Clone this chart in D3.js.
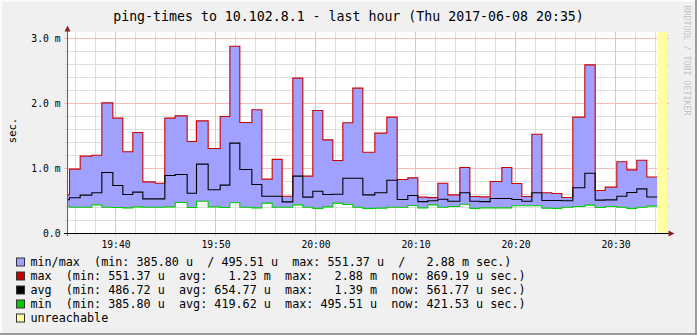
<!DOCTYPE html>
<html>
<head>
<meta charset="utf-8">
<script src="https://cdn.jsdelivr.net/npm/d3@7"></script>
<style>
  html, body { margin: 0; padding: 0; background: #f0f0f0; }
  svg text { font-family: "DejaVu Sans Mono", monospace; white-space: pre; }
</style>
</head>
<body>
<svg id="chart" width="697" height="335"></svg>
<script>
// ---- data: ping round-trip times (milliseconds), one value per RRD step ----
const day = "2017-06-08";
const stepEnds = [
  "19:35:24","19:36:28","19:37:38","19:38:38","19:39:44","19:40:44","19:41:44","19:42:44",
  "19:43:58","19:44:56","19:45:58","19:47:10","19:48:06","19:49:16","19:50:28","19:51:26",
  "19:52:26","19:53:38","19:54:38","19:55:40","19:56:40","19:57:44","19:58:44","19:59:44",
  "20:00:44","20:01:44","20:02:44","20:03:44","20:04:44","20:05:56","20:07:08","20:08:10",
  "20:09:14","20:10:14","20:11:14","20:12:14","20:13:14","20:14:26","20:15:26","20:16:26",
  "20:17:28","20:18:38","20:19:38","20:20:38","20:21:38","20:22:38","20:23:38","20:24:38",
  "20:25:44","20:26:56","20:27:58","20:28:58","20:30:08","20:31:08","20:32:08","20:33:08",
  "20:34:10"
];
const firstStepStart = "19:34:20";
const maxMs = [
  0.595, 0.99, 1.19, 1.205, 2.01, 1.775, 1.257, 1.554,
  0.795, 0.774, 1.775, 1.81, 1.415, 1.733, 1.308, 1.80,
  2.88, 1.708, 1.903, 0.836, 1.14, 0.574, 2.39, 0.882,
  1.892, 1.441, 1.123, 1.703, 2.236, 1.251, 1.544, 1.79,
  0.831, 0.856, 0.559, 0.55137, 0.774, 0.595, 1.015, 0.569,
  0.563, 0.80, 1.015, 0.769, 0.569, 1.528, 0.626, 0.615,
  0.553, 1.79, 2.595, 0.662, 0.713, 1.103, 0.979, 1.128,
  0.86919
];
const avgMs = [
  0.52, 0.549, 0.59, 0.626, 0.938, 0.738, 0.60, 0.636,
  0.533, 0.533, 0.892, 0.908, 0.62, 1.067, 0.672, 0.744,
  1.39, 0.985, 0.754, 0.574, 0.574, 0.48672, 0.882, 0.559,
  0.651, 0.60, 0.605, 0.851, 0.851, 0.595, 0.626, 0.82,
  0.523, 0.585, 0.49, 0.503, 0.528, 0.497, 0.626, 0.497,
  0.49, 0.538, 0.538, 0.523, 0.497, 0.626, 0.508, 0.508,
  0.503, 0.703, 0.928, 0.513, 0.518, 0.574, 0.631, 0.687,
  0.56177
];
const minMs = [
  0.42, 0.405, 0.405, 0.441, 0.405, 0.40, 0.395, 0.41,
  0.405, 0.405, 0.41, 0.477, 0.40, 0.49551, 0.41, 0.40,
  0.472, 0.405, 0.395, 0.467, 0.405, 0.405, 0.441, 0.405,
  0.3858, 0.41, 0.467, 0.446, 0.405, 0.386, 0.39, 0.405,
  0.405, 0.431, 0.395, 0.441, 0.405, 0.415, 0.451, 0.386,
  0.395, 0.395, 0.395, 0.426, 0.426, 0.426, 0.39, 0.386,
  0.405, 0.415, 0.436, 0.40, 0.415, 0.405, 0.386, 0.405,
  0.42153
];
const unreachable = [["20:34:10", "20:35:06"]];
const timeWindow = ["19:35:06", "20:35:06"];
const yMajorTicks = [0, 1, 2, 3];
const title = "ping-times to 10.102.8.1 - last hour (Thu 2017-06-08 20:35)";
const yLabel = "sec.";
const watermark = "RRDTOOL / TOBI OETIKER";
const legendNames = ["min/max", "max", "avg", "min", "unreachable"];
const legendStats = [
  "  (min: 385.80 u  / 495.51 u  max: 551.37 u  /   2.88 m sec.)",
  "  (min: 551.37 u  avg:   1.23 m  max:   2.88 m  now: 869.19 u sec.)",
  "  (min: 486.72 u  avg: 654.77 u  max:   1.39 m  now: 561.77 u sec.)",
  "  (min: 385.80 u  avg: 419.62 u  max: 495.51 u  now: 421.53 u sec.)",
  ""
];

// ---- colours ----
const C = {
  canvas: "#f0f0f0", plot: "#ffffff",
  grid: "#dedede", mgrid: "#f5bcbc",
  band: "#a0a0ff", max: "#cc0000", avg: "#000000", min: "#00cc00",
  unreach: "#ffffa0", arrow: "#902020", font: "#000000"
};
const legendColors = [C.band, C.max, C.avg, C.min, C.unreach];

// ---- layout ----
const W = 697, H = 335;
const plot = { left: 67, right: 667, top: 32, bottom: 233 };

const parse = d3.timeParse("%Y-%m-%d %H:%M:%S");
const T = s => parse(day + " " + s);

const x = d3.scaleTime()
  .domain(timeWindow.map(T))
  .range([plot.left - 0.5, plot.right - 0.5]);
const y = d3.scaleLinear()
  .domain([0, (plot.bottom - plot.top) / 65])
  .range([plot.bottom + 0.5, plot.top + 0.5]);

const svg = d3.select("#chart");

// canvas with bevelled frame
svg.append("rect").attr("width", W).attr("height", H).attr("fill", C.canvas);
svg.append("rect").attr("x", 0).attr("y", 0).attr("width", W).attr("height", 2).attr("fill", "#fbfbfb");
svg.append("rect").attr("x", 0).attr("y", 0).attr("width", 2).attr("height", H).attr("fill", "#fbfbfb");
svg.append("rect").attr("x", W - 2).attr("y", 0).attr("width", 2).attr("height", H).attr("fill", "#9c9c9c");
svg.append("rect").attr("x", 0).attr("y", H - 2).attr("width", W).attr("height", 2).attr("fill", "#9c9c9c");

// plot background
svg.append("rect")
  .attr("x", plot.left).attr("y", plot.top)
  .attr("width", plot.right - plot.left).attr("height", plot.bottom - plot.top)
  .attr("fill", C.plot);

const px = v => Math.floor(v) + 0.5;

// grid: minor every 2 minutes / 0.2 ms, major every 10 minutes / 1 ms
const gridG = svg.append("g").attr("shape-rendering", "crispEdges");
const [t0, t1] = x.domain();
const minorT = d3.timeMinute.every(2).range(t0, t1);
const majorT = d3.timeMinute.every(10).range(t0, t1);
const majorKey = new Set(majorT.map(d => +d));
gridG.selectAll("line.vminor").data(minorT.filter(d => !majorKey.has(+d))).join("line")
  .attr("x1", d => px(x(d))).attr("x2", d => px(x(d)))
  .attr("y1", plot.top).attr("y2", plot.bottom + 3)
  .attr("stroke", C.grid).attr("stroke-width", 1);
const yMinor = d3.range(0, 16).map(i => i * 0.2).filter(v => Math.abs(v - Math.round(v)) > 1e-6 && y(v) > plot.top);
gridG.selectAll("line.hminor").data(yMinor).join("line")
  .attr("x1", plot.left - 2).attr("x2", plot.right + 2)
  .attr("y1", d => px(y(d))).attr("y2", d => px(y(d)))
  .attr("stroke", C.grid).attr("stroke-width", 1);
gridG.selectAll("line.vmajor").data(majorT).join("line")
  .attr("x1", d => px(x(d))).attr("x2", d => px(x(d)))
  .attr("y1", plot.top).attr("y2", plot.bottom + 3)
  .attr("stroke", C.mgrid).attr("stroke-width", 1);
gridG.selectAll("line.hmajor").data(yMajorTicks.filter(v => v > 0)).join("line")
  .attr("x1", plot.left - 3).attr("x2", plot.right + 2)
  .attr("y1", d => px(y(d))).attr("y2", d => px(y(d)))
  .attr("stroke", C.mgrid).attr("stroke-width", 1);

// step records: each value holds from the previous step end to its own end
const starts = [firstStepStart].concat(stepEnds.slice(0, -1));
const rows = stepEnds.map((e, i) => ({ t: T(starts[i]), max: maxMs[i], avg: avgMs[i], min: minMs[i] }));
const last = rows[rows.length - 1];
rows.push({ t: T(stepEnds[stepEnds.length - 1]), max: last.max, avg: last.avg, min: last.min });

svg.append("clipPath").attr("id", "clip").append("rect")
  .attr("x", plot.left).attr("y", plot.top - 2)
  .attr("width", plot.right - plot.left).attr("height", plot.bottom - plot.top + 2);
const dataG = svg.append("g").attr("clip-path", "url(#clip)");

// unreachable periods
dataG.selectAll("rect.unreach").data(unreachable).join("rect")
  .attr("x", d => x(T(d[0]))).attr("y", plot.top)
  .attr("width", d => x(T(d[1])) - x(T(d[0])) + 0.5)
  .attr("height", plot.bottom - plot.top)
  .attr("fill", C.unreach);

// min..max band
dataG.append("path").datum(rows)
  .attr("d", d3.area().curve(d3.curveStepAfter)
    .x(d => x(d.t)).y0(d => y(d.min)).y1(d => y(d.max)))
  .attr("fill", C.band);

const stepLine = key => d3.line().curve(d3.curveStepAfter).x(d => x(d.t)).y(d => y(d[key]));
[["max", C.max], ["avg", C.avg], ["min", C.min]].forEach(([k, col]) => {
  dataG.append("path").datum(rows)
    .attr("d", stepLine(k))
    .attr("fill", "none").attr("stroke", col).attr("stroke-width", 1.1);
});

// axes lines with arrow heads
const axisG = svg.append("g");
axisG.append("line")
  .attr("x1", plot.left + 0.5).attr("x2", plot.left + 0.5)
  .attr("y1", plot.bottom + 3).attr("y2", plot.top - 4)
  .attr("stroke", "#606060").attr("stroke-width", 1).attr("shape-rendering", "crispEdges");
axisG.append("line")
  .attr("x1", plot.left - 3).attr("x2", plot.right + 4)
  .attr("y1", plot.bottom + 0.5).attr("y2", plot.bottom + 0.5)
  .attr("stroke", "#000").attr("stroke-width", 1).attr("shape-rendering", "crispEdges");
const ax = plot.left + 0.5, ay = plot.top - 6.5;
axisG.append("path")
  .attr("d", `M${ax - 3},${ay + 6} L${ax + 3},${ay + 6} L${ax},${ay} Z`)
  .attr("fill", C.arrow);
const bx = plot.right + 7.5, by = plot.bottom + 0.5;
axisG.append("path")
  .attr("d", `M${bx - 6},${by - 3} L${bx - 6},${by + 3} L${bx},${by} Z`)
  .attr("fill", C.arrow);

// tick labels
const fmtY = v => v === 0 ? "0.0" : d3.format(".1f")(v) + " m";
svg.append("g").selectAll("text").data(yMajorTicks).join("text")
  .attr("x", plot.left - 6.5).attr("y", d => y(d) + 3.6)
  .attr("text-anchor", "end").attr("font-size", "9.7px").attr("fill", C.font)
  .text(fmtY);
const fmtX = d3.timeFormat("%H:%M");
svg.append("g").selectAll("text").data(majorT).join("text")
  .attr("x", d => x(d) + 0.5).attr("y", plot.bottom + 15)
  .attr("text-anchor", "middle").attr("font-size", "9.7px").attr("fill", C.font)
  .text(fmtX);

// title, unit label, watermark
svg.append("text").attr("x", W / 2).attr("y", 21)
  .attr("text-anchor", "middle").attr("font-size", "13.25px").attr("fill", C.font)
  .text(title);
svg.append("text")
  .attr("transform", `translate(16,${(plot.top + plot.bottom) / 2 - 2}) rotate(-90)`)
  .attr("text-anchor", "middle").attr("font-size", "10.5px").attr("fill", C.font)
  .text(yLabel);
svg.append("text")
  .attr("transform", "translate(683.5,5.5) rotate(90)")
  .attr("font-size", "8.3px").attr("fill", "#c4c4c4")
  .text(watermark);

// legend
const legend = svg.append("g");
const lg = legend.selectAll("g").data(legendNames).join("g")
  .attr("transform", (d, i) => `translate(0,${265.5 + i * 14})`);
lg.append("rect")
  .attr("x", 16.5).attr("y", -7.5).attr("width", 8).attr("height", 8)
  .attr("fill", (d, i) => legendColors[i]).attr("stroke", "#333").attr("stroke-width", 1);
lg.append("text")
  .attr("x", 30.4).attr("y", 0)
  .attr("font-size", "11.75px").attr("fill", C.font)
  .text((d, i) => d + legendStats[i]);
</script>
</body>
</html>
